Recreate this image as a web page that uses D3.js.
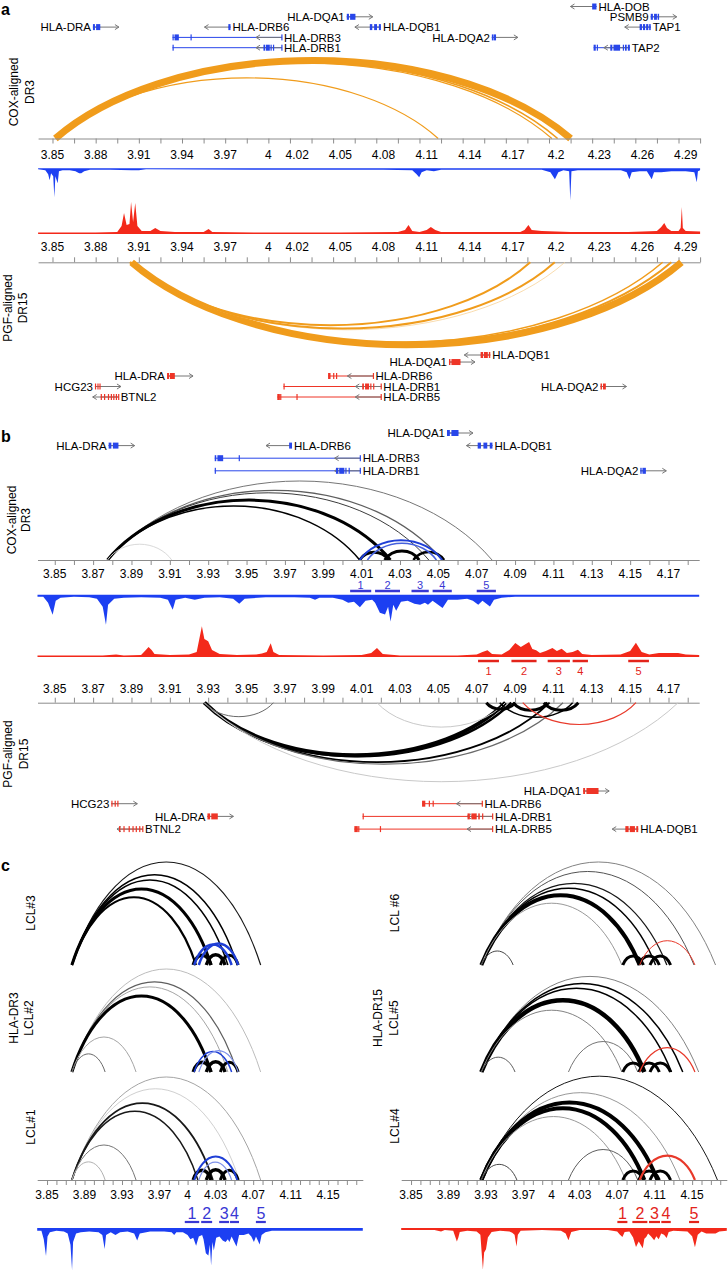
<!DOCTYPE html>
<html>
<head>
<meta charset="utf-8">
<script src="https://cdn.jsdelivr.net/npm/d3@7"></script>
<style>
  body { margin: 0; background: #fff; }
  svg { display: block; font-family: "Liberation Sans", Arial, sans-serif; }
</style>
</head>
<body>
<script>
// ---------- data (positions in Mb) ----------

// genes on the DR3 (COX) haplotype
const dr3Genes = [
  {name: "HLA-DOB", strand: -1, exons: [[4.2250, 4.2280]]},
  {name: "HLA-DQA1", strand: 1, exons: [[4.0545, 4.0560], [4.0568, 4.0605]]},
  {name: "PSMB9", strand: 1, exons: [[4.2657, 4.2672], [4.2680, 4.2700], [4.2705, 4.2715]]},
  {name: "HLA-DRA", strand: 1, exons: [[3.8781, 3.8795], [3.8803, 3.8832]]},
  {name: "HLA-DRB6", strand: -1, exons: [[3.9722, 3.9737]]},
  {name: "HLA-DQB1", strand: -1, exons: [[4.0705, 4.0722], [4.0735, 4.0755], [4.0768, 4.0782]]},
  {name: "TAP1", strand: -1, exons: [[4.2580, 4.2596], [4.2603, 4.2618], [4.2625, 4.2640], [4.2646, 4.2657]]},
  {name: "HLA-DRB3", strand: -1, span: [3.9334, 4.0095], exons: [[3.9334, 3.9342], [3.9348, 3.9378], [3.9459, 3.9465], [4.0090, 4.0095]]},
  {name: "HLA-DQA2", strand: 1, exons: [[4.1553, 4.1560], [4.1564, 4.1582]]},
  {name: "HLA-DRB1", strand: -1, span: [3.9334, 4.0095], exons: [[3.9334, 3.9339], [3.9966, 3.9978], [3.9983, 4.0010], [4.0015, 4.0020], [4.0032, 4.0037], [4.0090, 4.0095]]},
  {name: "TAP2", strand: -1, span: [4.2260, 4.2512], exons: [[4.2260, 4.2275], [4.2282, 4.2290], [4.2376, 4.2390], [4.2398, 4.2444], [4.2463, 4.2470], [4.2478, 4.2490], [4.2498, 4.2512]]}
];

// genes on the DR15 (PGF) haplotype
const dr15Genes = [
  {name: "HLA-DQB1", strand: -1, exons: [[4.1475, 4.1492], [4.1498, 4.1525], [4.1532, 4.1542]]},
  {name: "HLA-DQA1", strand: 1, exons: [[4.1255, 4.1265], [4.1272, 4.1335]]},
  {name: "HLA-DRA", strand: 1, exons: [[3.9296, 3.9310], [3.9316, 3.9350]]},
  {name: "HLA-DRB6", strand: -1, span: [4.0415, 4.0730], exons: [[4.0415, 4.0432], [4.0450, 4.0454], [4.0470, 4.0474], [4.0726, 4.0730]]},
  {name: "HCG23", strand: 1, exons: [[3.8795, 3.8800], [3.8812, 3.8818], [3.8826, 3.8831]]},
  {name: "HLA-DRB1", strand: -1, span: [4.0105, 4.0785], exons: [[4.0105, 4.0109], [4.0652, 4.0664], [4.0672, 4.0700], [4.0708, 4.0716], [4.0728, 4.0733], [4.0780, 4.0785]]},
  {name: "HLA-DQA2", strand: 1, exons: [[4.2308, 4.2318], [4.2325, 4.2345]]},
  {name: "BTNL2", strand: -1, span: [3.8835, 3.8960], exons: [[3.8835, 3.8842], [3.8858, 3.8862], [3.8885, 3.8889], [3.8905, 3.8909], [3.8922, 3.8926], [3.8940, 3.8944], [3.8956, 3.8960]]},
  {name: "HLA-DRB5", strand: -1, span: [4.0062, 4.0785], exons: [[4.0062, 4.0080], [4.0082, 4.0088], [4.0195, 4.0199], [4.0780, 4.0785]]}
];

// track row of each gene, per panel
const dr3RowsA = {"HLA-DOB": 0, "HLA-DQA1": 1, "PSMB9": 1, "HLA-DRA": 2, "HLA-DRB6": 2, "HLA-DQB1": 2, "TAP1": 2, "HLA-DRB3": 3, "HLA-DQA2": 3, "HLA-DRB1": 4, "TAP2": 4};
const dr15RowsA = {"HLA-DQB1": 0, "HLA-DQA1": 0.67, "HLA-DRA": 2, "HLA-DRB6": 2, "HCG23": 3, "HLA-DRB1": 3, "HLA-DQA2": 3, "BTNL2": 4, "HLA-DRB5": 4};
const dr3RowsB = {"HLA-DQA1": 0, "HLA-DRA": 1, "HLA-DRB6": 1, "HLA-DQB1": 1, "HLA-DRB3": 2, "HLA-DRB1": 3, "HLA-DQA2": 3};
const dr15RowsB = {"HLA-DQA1": 0, "HCG23": 1, "HLA-DRB6": 1, "HLA-DRA": 2, "HLA-DRB1": 2, "BTNL2": 3, "HLA-DRB5": 3, "HLA-DQB1": 3};

// tick labels
const labelsA = [3.85, 3.88, 3.91, 3.94, 3.97, 4, 4.02, 4.05, 4.08, 4.11, 4.14, 4.17, 4.2, 4.23, 4.26, 4.29];
const labelsB = [3.85, 3.87, 3.89, 3.91, 3.93, 3.95, 3.97, 3.99, 4.01, 4.03, 4.05, 4.07, 4.09, 4.11, 4.13, 4.15, 4.17];
const labelsC = [3.85, 3.89, 3.93, 3.97, 4, 4.03, 4.07, 4.11, 4.15];

// interactions: [from, to, weight, shade]
const arcsA_DR3 = [[3.852, 4.210, 7, 1], [3.853, 4.201, 1.6, 1], [3.853, 4.197, 1.2, 1], [3.852, 4.118, 1.2, 1]];
const arcsA_DR15 = [[3.905, 4.287, 7, 1], [3.904, 4.280, 2, 1], [3.904, 4.274, 1.5, 1], [3.904, 4.206, 0.8, 0.35], [3.904, 4.199, 2, 1], [3.904, 4.182, 2, 1]];

const arcsB_DR3 = [[3.8775, 4.078, 1, 0.5], [3.8775, 4.052, 1.2, 0.6], [3.8775, 4.045, 1, 0.75], [3.8775, 4.025, 3, 1], [3.8775, 4.009, 1.5, 1], [3.8775, 3.911, 1, 0.08],
  [4.009, 4.024, 3, 1], [4.022, 4.040, 3, 1], [4.037, 4.053, 2.5, 1]];
const arcsB_DR3blue = [[4.009, 4.052, 2, 1], [4.013, 4.049, 1.5, 0.8]];
const arcsB_DR15 = [[3.928, 4.085, 4, 1], [3.928, 4.088, 2.5, 1], [3.928, 4.108, 1.8, 1], [3.928, 4.115, 1.2, 0.55], [3.928, 4.175, 1, 0.15], [3.928, 3.964, 1, 0.55], [4.018, 4.085, 1, 0.15],
  [4.075, 4.090, 3, 1], [4.089, 4.107, 3, 1], [4.105, 4.123, 3, 1], [4.082, 4.120, 1.5, 1]];
const arcsB_DR15red = [[4.094, 4.153, 1.2, 1]];

const cLCL3 = [[3.8765, 4.078, 1.2, 0.9], [3.8765, 4.053, 1.5, 1], [3.8765, 4.043, 1.5, 1], [3.8765, 4.025, 3, 1], [3.8765, 4.009, 2.2, 1], [4.006, 4.025, 3.5, 1], [4.020, 4.040, 3.5, 1], [4.035, 4.054, 3, 1]];
const cLCL3blue = [[4.007, 4.047, 2.5, 1], [4.012, 4.054, 2.5, 1]];
const cLCL2 = [[3.8765, 4.078, 1, 0.2], [3.8765, 4.053, 1.2, 0.6], [3.8765, 4.043, 1, 0.3], [3.8765, 4.025, 3, 1], [3.8765, 3.945, 1, 0.3], [3.8765, 3.912, 1, 0.55], [4.006, 4.025, 3.5, 1], [4.020, 4.040, 3.5, 1], [4.035, 4.054, 3, 1]];
const cLCL2blue = [[4.007, 4.047, 1.5, 1], [4.012, 4.054, 1.2, 0.5]];
const cLCL1 = [[3.8765, 4.078, 1, 0.3], [3.8765, 4.055, 1, 0.12], [3.8765, 4.027, 1.8, 0.9], [3.8765, 4.011, 1.5, 0.9], [3.8765, 3.945, 1, 0.5], [3.8765, 3.912, 1, 0.25], [4.006, 4.025, 3.5, 1], [4.020, 4.040, 3.5, 1], [4.035, 4.054, 3, 1]];
const cLCL1blue = [[4.007, 4.053, 2, 1], [4.012, 4.047, 1.2, 0.5]];
const cLCL6 = [[3.925, 4.175, 1, 0.45], [3.925, 4.152, 1, 0.65], [3.925, 4.123, 1.3, 0.9], [3.925, 4.111, 1.5, 1], [3.925, 4.094, 4, 1], [3.925, 4.075, 1, 0.35], [3.925, 3.959, 1, 0.7], [4.076, 4.098, 3, 1], [4.093, 4.115, 3, 1], [4.105, 4.127, 3, 1]];
const cLCL6red = [[4.094, 4.153, 1, 1]];
const cLCL5 = [[3.925, 4.157, 1, 0.45], [3.925, 4.140, 1.5, 1], [3.925, 4.128, 1.5, 1], [3.925, 4.099, 4.5, 1], [3.925, 4.075, 1, 0.45], [4.018, 4.092, 1, 0.5], [3.925, 3.961, 1, 0.6], [4.076, 4.098, 3, 1], [4.093, 4.115, 3, 1], [4.105, 4.127, 3, 1]];
const cLCL5red = [[4.094, 4.153, 1.2, 1]];
const cLCL4 = [[3.925, 4.177, 1, 0.9], [3.925, 4.137, 1, 0.35], [3.925, 4.113, 4, 1], [3.925, 4.099, 4, 1], [3.925, 4.079, 1, 0.35], [4.018, 4.092, 1, 0.6], [3.925, 3.963, 1, 0.7], [4.076, 4.098, 3, 1], [4.093, 4.115, 3, 1], [4.105, 4.127, 3, 1]];
const cLCL4red = [[4.094, 4.153, 2.2, 1]];

// restriction fragments 1-5
const fragsB_DR3 = [[4.004, 4.015], [4.017, 4.030], [4.036, 4.045], [4.047, 4.057], [4.070, 4.080]];
const fragsB_DR15 = [[4.0707, 4.0816], [4.0881, 4.1012], [4.1070, 4.1186], [4.1200, 4.1280], [4.1490, 4.1598]];
const fragsC_DR3 = [[3.9970, 4.0124], [4.0145, 4.0262], [4.0337, 4.0443], [4.0453, 4.0549], [4.0729, 4.0835]];
const fragsC_DR15 = [[4.0702, 4.0809], [4.0862, 4.1022], [4.1040, 4.1157], [4.1171, 4.1272], [4.1467, 4.1574]];

// coverage signals: [position, signal]
const blueA = [[3.840, 1], [3.845, 2], [3.847, 6], [3.848, 12], [3.849, 5], [3.8505, 8], [3.8513, 29], [3.852, 8], [3.8536, 15], [3.8545, 3], [3.857, 2], [3.862, 2], [3.866, 3], [3.8685, 5], [3.870, 5], [3.872, 3], [3.876, 1.5],
  [3.890, 1.5], [3.905, 2], [3.910, 2], [3.915, 1], [3.950, 1.2], [3.990, 1.5], [4.020, 1.5], [4.050, 1.5], [4.080, 1.5], [4.100, 2], [4.103, 6], [4.1048, 9], [4.1065, 4], [4.110, 2], [4.115, 3], [4.120, 1.5],
  [4.150, 1.5], [4.190, 1.5], [4.196, 4], [4.1991, 11], [4.2015, 4], [4.205, 2], [4.209, 3], [4.2098, 32], [4.2106, 3], [4.215, 2], [4.230, 2], [4.245, 2], [4.249, 4], [4.2509, 11], [4.2525, 4],
  [4.258, 3], [4.263, 3], [4.2664, 11], [4.268, 4], [4.273, 4], [4.280, 3], [4.290, 3], [4.296, 4], [4.2977, 14], [4.2985, 3], [4.300, 2]];
const redA = [[3.840, 1.5], [3.880, 1.5], [3.895, 2], [3.898, 8], [3.8997, 21], [3.9015, 9], [3.9035, 10], [3.9046, 32], [3.906, 12], [3.9075, 31], [3.909, 8], [3.912, 3], [3.918, 3], [3.9214, 6], [3.925, 3],
  [3.935, 2], [3.955, 2], [3.9585, 5], [3.961, 2], [3.990, 1.5], [4.050, 1.5], [4.090, 2], [4.095, 4], [4.0974, 9], [4.100, 3], [4.105, 2], [4.110, 4], [4.1129, 7], [4.116, 4], [4.120, 2],
  [4.150, 2], [4.175, 2], [4.178, 4], [4.1807, 9], [4.183, 4], [4.190, 3], [4.210, 2], [4.250, 2], [4.270, 3], [4.273, 7], [4.2751, 11], [4.277, 6], [4.280, 3], [4.285, 3], [4.2865, 6], [4.2873, 27], [4.288, 6], [4.290, 3], [4.300, 2.5]];
const blueB = [[3.838, 2], [3.844, 2], [3.8465, 8], [3.8489, 20], [3.8505, 6], [3.853, 3], [3.860, 2], [3.868, 2.5], [3.872, 4], [3.875, 12], [3.8767, 30], [3.8778, 10], [3.881, 4], [3.886, 3], [3.895, 2.5],
  [3.905, 3], [3.909, 5], [3.9115, 15], [3.913, 5], [3.918, 3], [3.923, 5], [3.928, 3], [3.936, 2.5], [3.943, 4], [3.9462, 9], [3.949, 4], [3.960, 2.5], [3.975, 2.5], [3.983, 3], [3.9857, 5], [3.988, 3],
  [3.995, 3], [4.000, 5], [4.003, 8], [4.006, 7], [4.0091, 12.6], [4.012, 6], [4.0155, 5], [4.017, 8], [4.0195, 18], [4.0222, 19.7], [4.0238, 12], [4.0251, 26.7], [4.0265, 10], [4.028, 16], [4.0305, 7],
  [4.034, 6], [4.0375, 9], [4.0405, 10], [4.043, 8], [4.0446, 10], [4.047, 6], [4.0522, 13.3], [4.055, 5], [4.060, 5], [4.065, 4], [4.068, 6], [4.0708, 10], [4.073, 6], [4.0769, 11.7], [4.079, 5],
  [4.083, 3], [4.090, 2], [4.120, 2], [4.150, 2], [4.190, 2]];
const redB = [[3.838, 1.5], [3.875, 1.5], [3.882, 2.5], [3.886, 1.5], [3.895, 2], [3.897, 6], [3.8989, 10], [3.9005, 7], [3.902, 3], [3.910, 2], [3.920, 2.5], [3.924, 5], [3.9267, 30.7], [3.928, 18],
  [3.930, 15.7], [3.932, 7], [3.936, 3], [3.945, 2], [3.955, 2.5], [3.958, 3.5], [3.9605, 5], [3.9626, 13.7], [3.964, 5], [3.967, 2], [3.990, 1.5], [4.010, 2], [4.015, 4], [4.018, 9], [4.021, 3],
  [4.030, 1.5], [4.060, 1.5], [4.070, 2.5], [4.073, 5], [4.0756, 6.7], [4.078, 3], [4.083, 2.5], [4.087, 7], [4.0901, 14], [4.093, 10], [4.0973, 15], [4.099, 8], [4.101, 6.7], [4.103, 4], [4.106, 6],
  [4.1095, 9], [4.1118, 6], [4.1143, 8.3], [4.117, 4], [4.120, 5], [4.1228, 7.3], [4.125, 3], [4.130, 2], [4.145, 2.5], [4.150, 6], [4.153, 14.3], [4.156, 5], [4.160, 2.5], [4.165, 4], [4.170, 4],
  [4.175, 4], [4.179, 2.5], [4.190, 2]];

// ---------- drawing ----------
const BLUE = "#1c3ff2", RED = "#f3291a", ORANGE = "#f09c1c";
const GENE_BLUE = "#2846ea", GENE_RED = "#ee3527";
const FRAG_BLUE = "#3838d4", FRAG_RED = "#e3241b";
const AXIS = "#8c8c8c";

const svg = d3.select("body").append("svg").attr("width", 728).attr("height", 1272);
svg.append("rect").attr("width", 728).attr("height", 1272).attr("fill", "#fff");

const xA = d3.scaleLinear().domain([3.84, 4.30]).range([38.1, 700.1]);
const xB = d3.scaleLinear().domain([3.841, 4.186]).range([37.5, 699.2]);
const xCL = d3.scaleLinear().domain([3.8395, 4.187]).range([37.2, 362.8]);
const xCR = d3.scaleLinear().domain([3.8395, 4.187]).range([401.2, 726.8]);

// arc height from genomic span
const hA = d3.scalePow().exponent(0.85).domain([0, 0.358]).range([0, 78]);
const hBtop = d3.scalePow().exponent(0.9).domain([0, 0.2005]).range([0, 79]);
const hBbot = d3.scalePow().exponent(0.9).domain([0, 0.247]).range([0, 79]);
const hCL = d3.scaleLinear().domain([0, 0.2015]).range([0, 103]);
const hCR = d3.scaleLinear().domain([0, 0.25]).range([0, 103]);
const lw = d3.scaleLinear().domain([0, 10]).range([0, 10]);

const grey = d => d3.interpolateRgb("#ececec", "#000")(d[3]);
const blueShade = d => d3.interpolateRgb("#dde2fb", "#1f3fd6")(d[3]);
const redShade = d => d3.interpolateRgb("#fbe0dd", "#e8392a")(d[3]);
const orangeShade = d => d3.interpolateRgb("#fdf0dc", ORANGE)(d[3]);

// flattened circle-segment arc, stretched to height h
function arcD(x1, x2, y0, h, up) {
  const a = (x2 - x1) / 2, s = 0.55 * a;
  const R = (a * a + s * s) / (2 * s), ry = R * h / s;
  return `M${x1},${y0}A${R},${ry} 0 0 ${up ? 1 : 0} ${x2},${y0}`;
}

function arcs(x, base, hs, data, up, color) {
  svg.append("g").attr("fill", "none")
    .selectAll("path").data(data).join("path")
    .attr("d", d => arcD(x(d[0]), x(d[1]), base, hs(d[1] - d[0]), up))
    .attr("stroke", color)
    .attr("stroke-width", d => lw(d[2]));
}

function axis(x, y, ticks, labels, labelY, down) {
  const g = svg.append("g").attr("transform", `translate(0,${y})`)
    .call((down ? d3.axisBottom(x) : d3.axisTop(x))
      .tickValues(ticks).tickSize(5).tickSizeOuter(0).tickFormat(""));
  g.selectAll("path, line").attr("stroke", AXIS);
  svg.append("g").selectAll("text").data(labels).join("text")
    .attr("x", d => x(d)).attr("y", labelY)
    .attr("text-anchor", "middle").attr("font-size", 12)
    .text(d => String(d));
}

function track(x, base, ys, data, dir, color) {
  const xc = x.copy().clamp(true);
  svg.append("path").datum(data)
    .attr("fill", color)
    .attr("d", d3.area().x(d => xc(d[0])).y0(base).y1(d => base + dir * ys(d[1])));
}

function genes(x, list, rows, y0, step, color) {
  const g = svg.append("g");
  list.filter(d => d.name in rows).forEach(d => {
    const y = y0 + rows[d.name] * step;
    const span = d.span || [d.exons[0][0], d.exons[d.exons.length - 1][1]];
    const tss = d.strand > 0 ? x(span[0]) : x(span[1]);
    const tip = tss + d.strand * 26;

    g.append("line")
      .attr("x1", x(span[0])).attr("x2", x(span[1]))
      .attr("y1", y).attr("y2", y)
      .attr("stroke", color).attr("stroke-width", 1);

    g.append("path")
      .attr("d", `M${tss},${y}H${tip}M${tip - d.strand * 4},${y - 2.5}L${tip},${y}L${tip - d.strand * 4},${y + 2.5}`)
      .attr("fill", "none").attr("stroke", "#777").attr("stroke-width", 1);

    g.selectAll(null).data(d.exons).join("rect")
      .attr("x", e => x(e[0]))
      .attr("width", e => Math.max(1.2, x(e[1]) - x(e[0])))
      .attr("y", y - 3).attr("height", 6)
      .attr("fill", color);

    g.append("text")
      .attr("x", tss + (d.strand > 0 ? -2 : 2)).attr("y", y).attr("dy", "0.36em")
      .attr("text-anchor", d.strand > 0 ? "end" : "start")
      .attr("font-size", 11.5)
      .text(d.name);
  });
}

function frags(x, list, barY, textY, color, size, bw) {
  const g = svg.append("g");
  list.forEach((f, i) => {
    g.append("line")
      .attr("x1", x(f[0])).attr("x2", x(f[1]))
      .attr("y1", barY).attr("y2", barY)
      .attr("stroke", color).attr("stroke-width", bw);
    g.append("text")
      .attr("x", x((f[0] + f[1]) / 2)).attr("y", textY)
      .attr("text-anchor", "middle").attr("font-size", size)
      .attr("fill", color).text(i + 1);
  });
}

function sideLabel(lines, xs, cy) {
  lines.forEach((t, i) => {
    svg.append("text")
      .attr("transform", `translate(${xs[i]},${cy}) rotate(-90)`)
      .attr("text-anchor", "middle").attr("dy", "0.36em")
      .attr("font-size", 12).text(t);
  });
}

function panelLetter(t, y) {
  svg.append("text").attr("x", 1).attr("y", y)
    .attr("font-size", 16).attr("font-weight", "bold").text(t);
}

// ---------- panel a ----------
panelLetter("a", 15);
genes(xA, dr3Genes, dr3RowsA, 6.5, 10.3, GENE_BLUE);
arcs(xA, 138.5, hA, arcsA_DR3, true, orangeShade);
axis(xA, 138.5, d3.range(3.85, 4.301, 0.015), labelsA, 159, true);
track(xA, 168.3, d3.scaleLinear().domain([0, 32]).range([0, 32]), blueA, 1, BLUE);
track(xA, 234, d3.scaleLinear().domain([0, 32]).range([0, 32]), redA, -1, RED);
axis(xA, 262.3, d3.range(3.85, 4.301, 0.015), labelsA, 251, false);
arcs(xA, 262.3, hA, arcsA_DR15, false, orangeShade);
genes(xA, dr15Genes, dr15RowsA, 355, 10.5, GENE_RED);
sideLabel(["COX-aligned", "DR3"], [14, 30], 92);
sideLabel(["PGF-aligned", "DR15"], [8, 23], 308);

// ---------- panel b ----------
panelLetter("b", 442);
genes(xB, dr3Genes, dr3RowsB, 433, 12.6, GENE_BLUE);
arcs(xB, 560, hBtop, arcsB_DR3, true, grey);
arcs(xB, 560, hBtop, arcsB_DR3blue, true, blueShade);
axis(xB, 560, d3.range(3.85, 4.181, 0.01), labelsB, 578, true);
frags(xB, fragsB_DR3, 591, 589, FRAG_BLUE, 11, 2.5);
track(xB, 594.7, d3.scaleLinear().domain([0, 30]).range([0, 30]), blueB, 1, BLUE);
track(xB, 657, d3.scaleLinear().domain([0, 31]).range([0, 31]), redB, -1, RED);
frags(xB, fragsB_DR15, 661, 675, FRAG_RED, 11, 2.5);
axis(xB, 702.7, d3.range(3.85, 4.181, 0.01), labelsB, 693, false);
arcs(xB, 702.7, hBbot, arcsB_DR15, false, grey);
arcs(xB, 702.7, hBbot, arcsB_DR15red, false, redShade);
genes(xB, dr15Genes, dr15RowsB, 791, 12.7, GENE_RED);
sideLabel(["COX-aligned", "DR3"], [12, 26], 520);
sideLabel(["PGF-aligned", "DR15"], [8, 23.5], 754);

// ---------- panel c ----------
panelLetter("c", 871);
const rowBase = [965, 1072, 1180];
[[cLCL3, cLCL3blue], [cLCL2, cLCL2blue], [cLCL1, cLCL1blue]].forEach(([k, b], i) => {
  arcs(xCL, rowBase[i], hCL, k, true, grey);
  arcs(xCL, rowBase[i], hCL, b, true, blueShade);
});
[[cLCL6, cLCL6red], [cLCL5, cLCL5red], [cLCL4, cLCL4red]].forEach(([k, r], i) => {
  arcs(xCR, rowBase[i], hCR, k, true, grey);
  arcs(xCR, rowBase[i], hCR, r, true, redShade);
});
axis(xCL, 1180, d3.range(3.85, 4.181, 0.01), labelsC, 1199, true);
axis(xCR, 1180, d3.range(3.85, 4.181, 0.01), labelsC, 1199, true);
frags(xCL, fragsC_DR3, 1222, 1219, FRAG_BLUE, 16, 2.2);
frags(xCR, fragsC_DR15, 1222, 1219, FRAG_RED, 16, 2.2);
track(xCL, 1228, d3.scaleLinear().domain([0, 30]).range([0, 42]), blueB, 1, BLUE);
track(xCR, 1228, d3.scaleLinear().domain([0, 31]).range([0, 42]), redB, 1, RED);

sideLabel(["LCL#3"], [31], 913);
sideLabel(["HLA-DR3", "LCL#2"], [14, 29], 1018);
sideLabel(["LCL#1"], [31], 1127);
sideLabel(["LCL #6"], [395], 913);
sideLabel(["HLA-DR15", "LCL#5"], [378, 394], 1018);
sideLabel(["LCL#4"], [395], 1126);
</script>
</body>
</html>
